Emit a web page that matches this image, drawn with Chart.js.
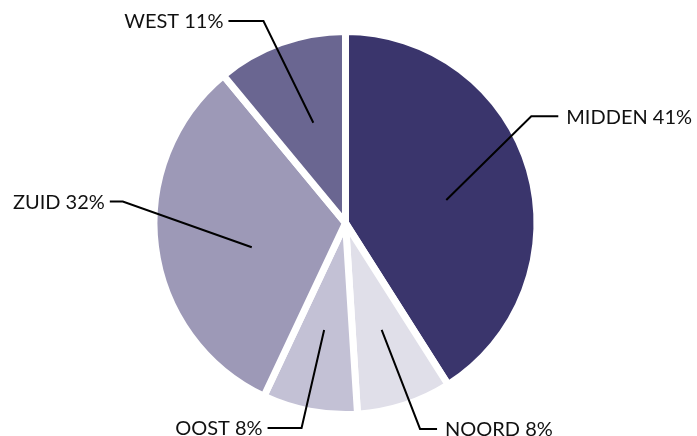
<!DOCTYPE html>
<html>
<head>
<meta charset="utf-8">
<script src="https://cdn.jsdelivr.net/npm/chart.js@4"></script>
<style>
    html, body { margin: 0; padding: 0; background: #fff; }
    #wrap { width: 697px; height: 436px; }
</style>
</head>
<body>
<div id="wrap"><canvas id="regioChart"></canvas></div>
<script>
// Regions, clockwise from 12 o'clock
const regions = ['MIDDEN', 'NOORD', 'OOST', 'ZUID', 'WEST'];
const shares = [41, 8, 8, 32, 11];
const sliceColors = ['#3a356c', '#e0dfe9', '#c3c1d5', '#9d99b7', '#6a6691'];

// Leader line layout per slice (angles in degrees, radii as fraction of the pie radius)
const leaderLayout = [
    { innerShift: 3.3,  innerR: 0.55, elbowShift: -13.7, elbowR: 1.14,  tail: 27 },
    { innerShift: -0.7, innerR: 0.60, elbowShift: -1.9,  elbowR: 1.165, tail: 17 },
    { innerShift: 0.5,  innerR: 0.58, elbowShift: 1.3,   elbowR: 1.115, tail: 34 },
    { innerShift: -7.3, innerR: 0.515, elbowShift: 12.7, elbowR: 1.19,  tail: 13 },
    { innerShift: 2.0,  innerR: 0.56, elbowShift: -2.3,  elbowR: 1.16,  tail: 35 }
];

const BORDER = 7;

/**
 * Draws the leader lines and "NAME xx%" labels next to each slice.
 */
const leaderLabels = {
    id: 'leaderLabels',
    afterDatasetsDraw(chart) {
        const ctx = chart.ctx;
        const arcs = chart.getDatasetMeta(0).data;
        const deg = Math.PI / 180;
        ctx.save();
        ctx.strokeStyle = '#000';
        ctx.lineWidth = 2;
        ctx.fillStyle = '#111';
        ctx.font = '20px Lato, "Open Sans", sans-serif';
        ctx.textBaseline = 'middle';
        arcs.forEach((arc, i) => {
            const { x, y, startAngle, endAngle, outerRadius } = arc.getProps(['x', 'y', 'startAngle', 'endAngle', 'outerRadius'], true);
            const r = outerRadius - BORDER / 2;
            const mid = (startAngle + endAngle) / 2;
            const lay = leaderLayout[i];
            const a1 = mid + lay.innerShift * deg;
            const a2 = mid + lay.elbowShift * deg;
            const p1 = { x: x + Math.cos(a1) * r * lay.innerR, y: y + Math.sin(a1) * r * lay.innerR };
            const p2 = { x: x + Math.cos(a2) * r * lay.elbowR, y: y + Math.sin(a2) * r * lay.elbowR };
            const right = p2.x > x;
            const p3 = { x: p2.x + (right ? lay.tail : -lay.tail), y: p2.y };

            ctx.beginPath();
            ctx.moveTo(p1.x, p1.y);
            ctx.lineTo(p2.x, p2.y);
            ctx.lineTo(p3.x, p3.y);
            ctx.stroke();

            ctx.textAlign = right ? 'left' : 'right';
            const text = regions[i] + ' ' + shares[i] + '%';
            ctx.fillText(text, p3.x + (right ? 8 : -5), p3.y + 1);
        });
        ctx.restore();
    }
};

new Chart(document.getElementById('regioChart'), {
    type: 'pie',
    data: {
        labels: regions,
        datasets: [{
            data: shares,
            backgroundColor: sliceColors,
            borderColor: '#ffffff',
            borderWidth: BORDER,
            hoverOffset: 0,
            hoverBorderWidth: BORDER
        }]
    },
    options: {
        responsive: true,
        maintainAspectRatio: false,
        animation: false,
        events: [],
        layout: { padding: { left: 0, right: 6, top: 28, bottom: 18 } },
        plugins: {
            legend: { display: false },
            tooltip: { enabled: false }
        }
    },
    plugins: [leaderLabels]
});
</script>
</body>
</html>
